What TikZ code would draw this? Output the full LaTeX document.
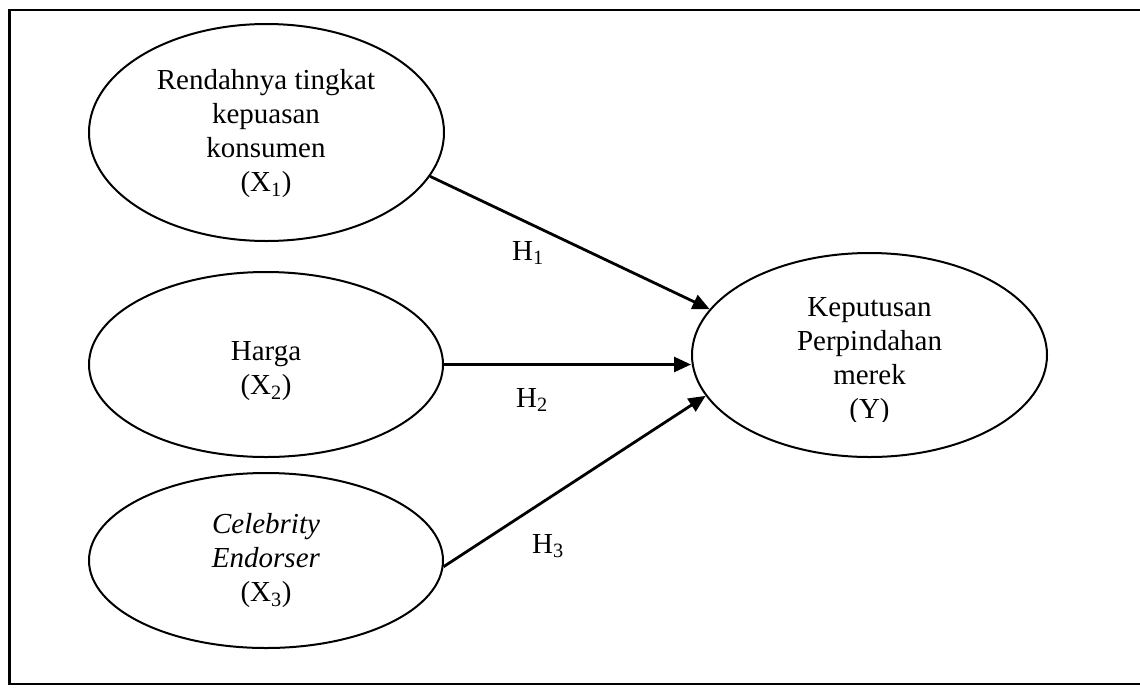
\documentclass[tikz,border=0pt]{standalone}
\usepackage{fontspec}
\setmainfont{Liberation Serif}
\usetikzlibrary{arrows.meta,shapes.geometric}
\tikzset{
  ell/.style={draw=black, line width=2pt, ellipse, inner sep=0pt, minimum width=#1},
  txt/.style={align=center, inner sep=0pt, font=\fontsize{29}{34}\selectfont},
  hyp/.style={anchor=base west, inner sep=0pt, font=\fontsize{29}{34}\selectfont},
  conn/.style={line width=2.8pt, -{Triangle[length=17pt,width=15pt]}},
  frame/.style={line width=2.5pt, black}
}
\begin{document}
\begin{tikzpicture}[x=1pt,y=-1pt]
\useasboundingbox (0,0) rectangle (1140,689);
% frame (right side lies outside the picture)
\draw[frame] (1145,10) -- (9.5,10) -- (9.5,684) -- (1145,684);
% ellipses
\node[ell=355pt, minimum height=217pt] (X1) at (266.5,132.5) {};
\node[ell=354pt, minimum height=185pt] (X2) at (266,364.5) {};
\node[ell=354pt, minimum height=175pt] (X3) at (266,560.5) {};
\node[ell=355pt, minimum height=204pt] (Y) at (869.5,355) {};
% texts
\node[txt] (X1t) at (266,134) {Rendahnya tingkat\\kepuasan\\konsumen\\(X\textsubscript{1})};
\node[txt] (X2t) at (266,371) {Harga\\(X\textsubscript{2})};
\node[txt] (X3t) at (266,561) {\textit{Celebrity}\\\textit{Endorser}\\(X\textsubscript{3})};
\begin{scope}
\clip (600,250) rectangle (1140,421);
\node[txt] (Yt) at (869.5,361.5) {Keputusan\\Perpindahan\\merek\\(Y)};
\end{scope}
% connectors
\draw[conn] (X1.-15.3) -- (Y.164.6);
\draw[conn] (X2.east) -- (Y.west |- X2.east);
\draw[conn] (X3.-2.1) -- (Y.194.4);
% hypothesis labels
\node[hyp] (H1) at (512,260) {H\textsubscript{1}};
\node[hyp] (H2) at (516,407) {H\textsubscript{2}};
\node[hyp] (H3) at (532,553) {H\textsubscript{3}};
\end{tikzpicture}
\end{document}
